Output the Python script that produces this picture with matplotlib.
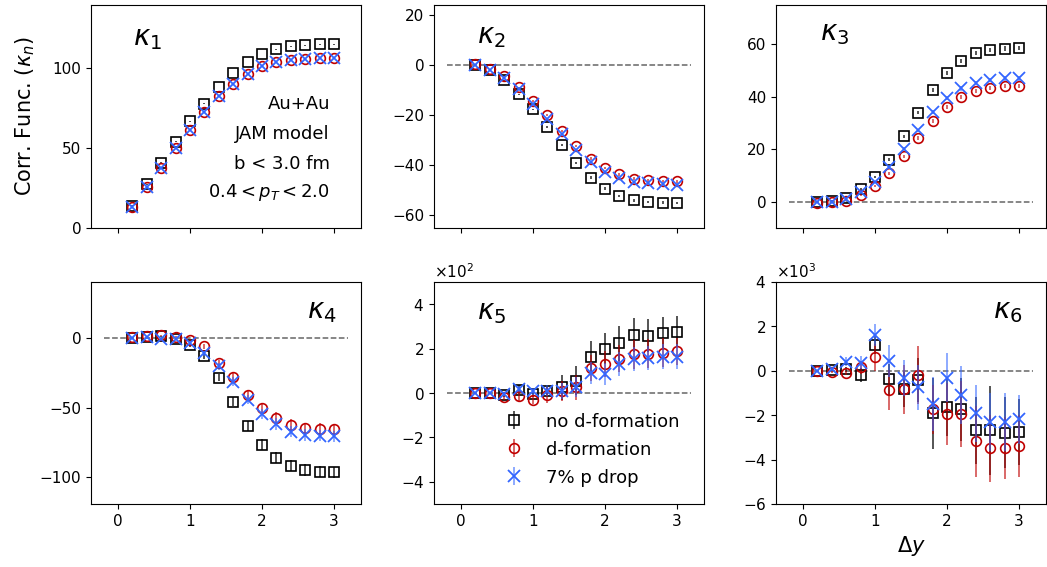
import numpy as np
import matplotlib
matplotlib.use("Agg")
import matplotlib.pyplot as plt

# ---------------- data ----------------
dy = [0.2, 0.4, 0.6, 0.8, 1.0, 1.2, 1.4, 1.6, 1.8, 2.0, 2.2, 2.4, 2.6, 2.8, 3.0]
labels = ["no d-formation", "d-formation", "7% p drop"]

k1_nod = [13.9, 27.3, 40.8, 53.9, 66.4, 77.5, 87.9, 96.7, 103.5, 108.5, 111.3, 113.3, 113.9, 114.4, 114.4]
k1_d   = [13.3, 25.8, 37.7, 49.8, 61.3, 72.3, 82.1, 90.0, 96.3, 100.8, 103.6, 105.0, 105.6, 106.0, 106.0]
k1_p   = [13.3, 25.8, 37.7, 49.8, 61.3, 72.3, 82.1, 90.0, 96.3, 100.8, 103.6, 105.0, 105.6, 106.0, 106.0]
k1_err = [0.2] * 15

k2_nod = [0.0, -2.0, -6.0, -11.6, -17.7, -24.7, -32.0, -39.1, -44.9, -49.3, -52.3, -54.0, -54.7, -54.9, -55.1]
k2_d   = [0.3, -1.6, -4.4, -8.9, -14.3, -20.0, -26.3, -32.3, -37.3, -41.1, -43.6, -45.3, -46.0, -46.3, -46.4]
k2_p   = [0.0, -2.0, -5.3, -9.7, -15.6, -21.3, -27.3, -33.7, -38.7, -42.7, -45.1, -46.7, -47.1, -47.3, -47.7]
k2_err = [0.1, 0.1, 0.2, 0.2, 0.3, 0.3, 0.4, 0.4, 0.5, 0.5, 0.5, 0.5, 0.5, 0.5, 0.5]

k3_nod = [0.0, 0.4, 1.6, 4.9, 9.6, 16.1, 24.9, 34.0, 42.5, 49.2, 53.8, 56.6, 57.9, 58.4, 58.5]
k3_d   = [-0.3, 0.0, 0.4, 2.6, 5.9, 10.8, 17.4, 24.4, 30.8, 36.1, 40.0, 42.3, 43.4, 44.1, 44.1]
k3_p   = [0.0, 0.0, 1.0, 3.8, 7.7, 13.1, 20.2, 27.2, 34.2, 39.6, 43.2, 45.3, 46.4, 47.0, 47.0]
k3_err = [0.1, 0.1, 0.2, 0.3, 0.4, 0.5, 0.6, 0.7, 0.8, 0.8, 0.8, 0.8, 0.8, 0.8, 0.8]

k4_nod = [0.1, 0.6, 1.1, -0.6, -5.4, -13.3, -28.6, -45.7, -62.9, -76.6, -85.8, -91.7, -94.6, -96.0, -96.3]
k4_d   = [0.6, 1.3, 1.8, 0.6, -1.8, -6.1, -18.1, -28.2, -40.9, -50.2, -57.4, -62.4, -64.9, -65.3, -65.6]
k4_p   = [0.1, 0.6, -0.6, -0.6, -3.5, -10.9, -20.5, -31.3, -44.2, -54.5, -61.7, -67.3, -69.6, -70.1, -70.6]
k4_err = [0.3, 0.3, 0.5, 0.8, 1.2, 1.8, 2.5, 3.0, 3.5, 3.8, 4.0, 4.0, 4.0, 4.0, 4.0]

k5_nod = [0, 0, -8, 15, -3, 10, 25, 55, 161, 199, 224, 261, 258, 269, 276]
k5_d   = [0, 0, -20, -15, -30, -10, 7, 25, 112, 131, 154, 175, 176, 182, 187]
k5_p   = [0, 0, -5, 18, 7, 10, 10, 25, 90, 85, 130, 152, 157, 164, 164]
k5_nod_err = [3, 3, 8, 20, 15, 25, 55, 65, 75, 70, 80, 75, 75, 75, 70]
k5_d_err   = [3, 3, 10, 20, 20, 35, 45, 55, 60, 60, 60, 65, 65, 65, 60]
k5_p_err   = [3, 3, 10, 15, 15, 25, 35, 45, 50, 50, 55, 55, 55, 55, 55]

k6_nod = [0, 30, 60, -190, 1160, -390, -840, -420, -1920, -1630, -1740, -2680, -2680, -2780, -2750]
k6_d   = [0, -50, -90, 150, 600, -870, -840, -190, -1740, -1950, -1950, -3170, -3500, -3460, -3390]
k6_p   = [0, 60, 410, 360, 1610, 440, -320, -750, -1500, -320, -1100, -1920, -2300, -2300, -2180]
k6_nod_err = [50, 50, 100, 300, 400, 700, 800, 1000, 1600, 1300, 1400, 1500, 2000, 1600, 1500]
k6_d_err   = [50, 50, 100, 300, 600, 900, 1100, 1300, 1100, 1400, 1500, 1600, 1500, 1400, 1400]
k6_p_err   = [50, 50, 200, 300, 500, 700, 800, 1000, 1200, 1100, 1300, 1300, 1300, 1300, 1100]

panels = [
    (r"$\kappa_1$", k1_nod, k1_d, k1_p, k1_err, k1_err, k1_err),
    (r"$\kappa_2$", k2_nod, k2_d, k2_p, k2_err, k2_err, k2_err),
    (r"$\kappa_3$", k3_nod, k3_d, k3_p, k3_err, k3_err, k3_err),
    (r"$\kappa_4$", k4_nod, k4_d, k4_p, k4_err, k4_err, k4_err),
    (r"$\kappa_5$", k5_nod, k5_d, k5_p, k5_nod_err, k5_d_err, k5_p_err),
    (r"$\kappa_6$", k6_nod, k6_d, k6_p, k6_nod_err, k6_d_err, k6_p_err),
]
ylims = [(0, 139), (-65, 24), (-10, 75), (-119, 40), (-500, 500), (-6000, 4000)]
yticks = [[0, 50, 100], [-60, -40, -20, 0, 20], [0, 20, 40, 60],
          [-100, -50, 0], [-400, -200, 0, 200, 400], [-6000, -4000, -2000, 0, 2000, 4000]]
label_pos = [(0.156, 0.852), (0.159, 0.861), (0.163, 0.874),
             (0.80, 0.869), (0.159, 0.865), (0.804, 0.869)]
info_lines = ["Au+Au", "JAM model", "b < 3.0 fm", r"$0.4 < p_T < 2.0$"]
info_y = [0.556, 0.422, 0.287, 0.161]

# ---------------- figure ----------------
W, H = 1047, 567
fig = plt.figure(figsize=(W / 100, H / 100), dpi=100)

col_left = [91, 434, 776]
col_w = 270
rows = [(5, 228), (282, 504)]

c_black = "black"
c_red = "#c00000"
c_blue = "#3366ff"

axes = []
for i, p in enumerate(panels):
    r, c = divmod(i, 3)
    top, bot = rows[r]
    ax = fig.add_axes([col_left[c] / W, 1 - bot / H, col_w / W, (bot - top) / H])
    axes.append(ax)
    name, ynod, yd, yp, enod, ed, ep = p
    if i != 0:
        ax.hlines(0, -0.2, 3.2, colors="#666666", linestyles="--", lw=1.1, zorder=1)
    h1 = ax.errorbar(dy, ynod, yerr=enod, fmt="s", ms=7, mfc="none", mec=c_black,
                     mew=1.2, ecolor=c_black, elinewidth=1.1, label=labels[0], zorder=3)
    h2 = ax.errorbar(dy, yd, yerr=ed, fmt="o", ms=7, mfc="none", mec=c_red,
                     mew=1.2, ecolor=c_red, elinewidth=1.1, label=labels[1], zorder=4)
    h3 = ax.errorbar(dy, yp, yerr=ep, fmt="x", ms=8, mec=c_blue, color=c_blue,
                     mew=1.3, ecolor=c_blue, elinewidth=1.1, label=labels[2], zorder=5)
    for h, a in ((h1, 0.85), (h2, 0.75), (h3, 0.7)):
        for lc in h[2]:
            lc.set_alpha(a)
    ax.set_xlim(-0.375, 3.375)
    ax.set_ylim(*ylims[i])
    ax.set_yticks(yticks[i])
    ax.set_xticks([0, 1, 2, 3])
    ax.tick_params(labelsize=11)
    if r == 0:
        ax.set_xticklabels([])
    ax.text(label_pos[i][0], label_pos[i][1], name, transform=ax.transAxes,
            fontsize=20, ha="left", va="center")
    if i >= 4:
        ax.ticklabel_format(axis="y", style="sci", scilimits=(0, 0), useMathText=True)
        ax.yaxis.get_offset_text().set_fontsize(11)
    if i == 4:
        ax.legend(loc="center", bbox_to_anchor=(0.57, 0.245), frameon=False,
                  fontsize=13, handlelength=2.0, handletextpad=0.8, labelspacing=0.55)

ax0 = axes[0]
for s, yy in zip(info_lines, info_y):
    ax0.text(0.885, yy, s, transform=ax0.transAxes, fontsize=13, ha="right", va="center")
ax0.set_ylabel(r"Corr. Func. ($\kappa_n$)", fontsize=15)
ax0.yaxis.set_label_coords(-0.2, 0.5)

axes[5].set_xlabel(r"$\Delta y$", fontsize=15)

fig.savefig("out.png", dpi=100)
